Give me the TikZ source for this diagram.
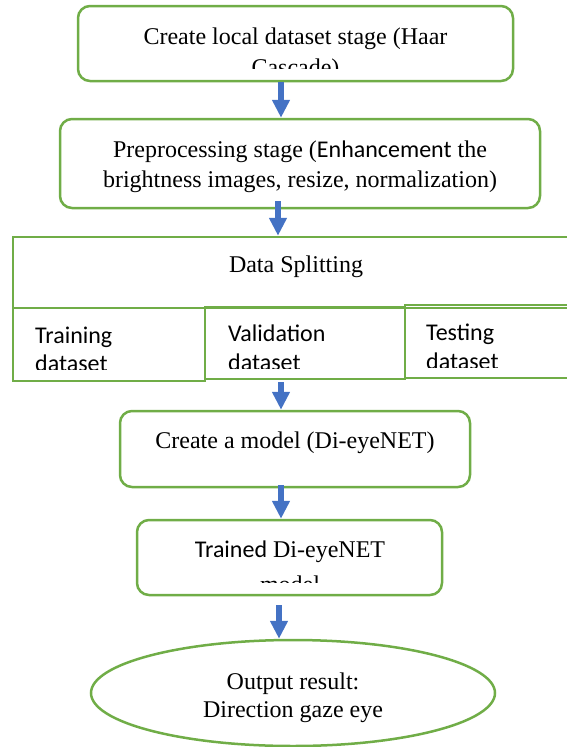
\documentclass[tikz,border=0pt]{standalone}
\usepackage{fontspec}
\setmainfont{Liberation Serif}
\newfontfamily\calfont{Carlito}
\usetikzlibrary{arrows.meta,shapes.geometric}
\definecolor{grn}{HTML}{70AD47}
\definecolor{blu}{HTML}{4472C4}
\begin{document}
\begin{tikzpicture}[x=1pt,y=-1pt,
  rbox/.style={draw=grn,line width=2.5pt,rounded corners=12pt,inner sep=0pt},
  sbox/.style={draw=grn,line width=2.5pt,inner sep=0pt},
  txt/.style={font=\fontsize{24}{29}\selectfont,inner sep=0pt},
  stxt/.style={font=\calfont\fontsize{24}{28}\selectfont,inner sep=0pt,anchor=base west},
  arr/.style={draw=blu,line width=6pt,-{Triangle[width=17pt,length=18pt]}}]
\useasboundingbox (0,0) rectangle (566,747);
% boxes
\node[rbox,minimum width=435pt,minimum height=75pt] (b1) at (295.5,43.5) {};
\node[rbox,minimum width=480pt,minimum height=89pt] (b2) at (300,163.5) {};
\node[sbox,minimum width=557pt,minimum height=71pt] (ds) at (291.5,272.5) {};
\node[sbox,minimum width=192pt,minimum height=73pt] (tr) at (109,344.5) {};
\node[sbox,minimum width=200pt,minimum height=72pt] (va) at (305,343) {};
\node[sbox,minimum width=165pt,minimum height=73pt] (te) at (487.5,341.5) {};
\node[rbox,minimum width=350pt,minimum height=76pt] (b3) at (295,449) {};
\node[rbox,minimum width=305pt,minimum height=75pt] (b4) at (289.5,557.5) {};
\node[ellipse,draw=grn,line width=2.5pt,minimum width=404pt,minimum height=106pt,inner sep=0pt] (b5) at (293,693) {};
% texts
\node[txt,anchor=base] (t1) at (295.5,44) {Create local dataset stage (Haar};
\begin{scope}
\clip (80,20) rectangle (510,68);
\node[txt,anchor=base] (t1b) at (295.5,75) {Cascade)};
\end{scope}
\node[txt,anchor=base] (t2) at (300,157) {Preprocessing stage ({\calfont Enhancement} the};
\node[txt,anchor=base] (t2b) at (300,187) {brightness images, resize, normalization)};
\node[txt,anchor=base] (t3) at (296,272) {Data Splitting};
\begin{scope}
\clip (13,310) rectangle (205,369.5);
\node[stxt] (t4) at (35,343) {Training};
\node[stxt] (t4b) at (35,371) {dataset};
\end{scope}
\begin{scope}
\clip (205,310) rectangle (405,368);
\node[stxt] (t5) at (228,341) {Validation};
\node[stxt] (t5b) at (228,370) {dataset};
\end{scope}
\begin{scope}
\clip (405,310) rectangle (566,367);
\node[stxt] (t6) at (426,340) {Testing};
\node[stxt] (t6b) at (426,369) {dataset};
\end{scope}
\node[txt,anchor=base] (t7) at (295,448) {Create a model (Di-eyeNET)};
\node[txt,anchor=base] (t8) at (290,557) {{\calfont Trained} Di-eyeNET};
\begin{scope}
\clip (140,560) rectangle (440,582);
\node[txt,anchor=base] (t8b) at (290,592) {model};
\end{scope}
\node[txt,anchor=base] (t9) at (293,689) {Output result:};
\node[txt,anchor=base] (t9b) at (293,717) {Direction gaze eye};
% arrows
\coordinate (xa) at (281,0);
\coordinate (xb) at (278,0);
\coordinate (xc) at (279,0);
\draw[arr] (b1.south -| xa) -- (b2.north -| xa);
\draw[arr] ([yshift=8pt]b2.south -| xb) -- (ds.north -| xb);
\draw[arr] (tr.south -| xa) -- (b3.north -| xa);
\draw[arr] ([yshift=3pt]b3.south -| xa) -- (b4.north -| xa);
\draw[arr] ([yshift=-9pt]b4.south -| xc) -- (b5.north -| xc);
\end{tikzpicture}
\end{document}
